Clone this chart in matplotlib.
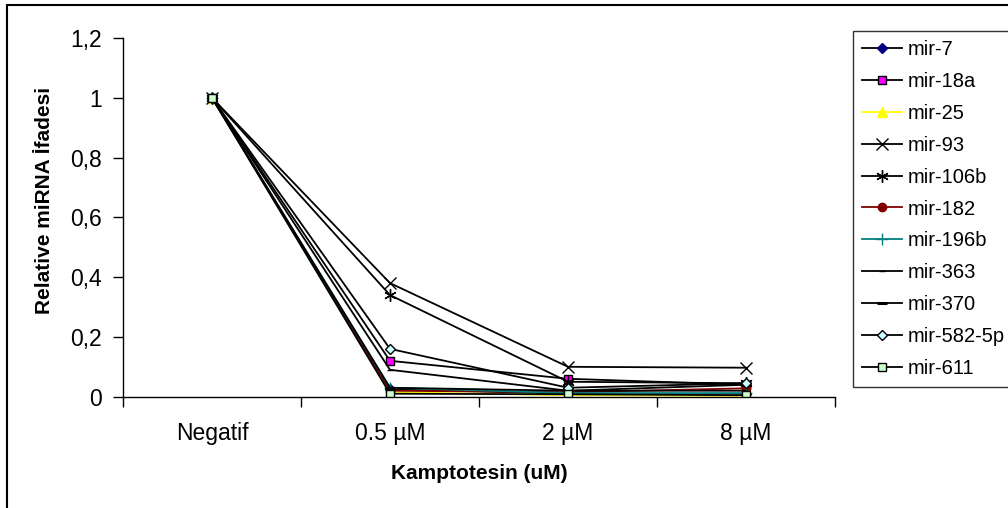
import matplotlib
matplotlib.use("Agg")
import matplotlib.pyplot as plt
from matplotlib.patches import Rectangle
from matplotlib.ticker import FixedLocator, NullFormatter

plt.rcParams['font.family'] = ['Liberation Sans', 'DejaVu Sans']

# doses on x axis
doses = ['Negatif', '0.5 µM', '2 µM', '8 µM']

# relative expression per miRNA
mir_7 = [1.0, 0.025, 0.010, 0.010]
mir_18a = [1.0, 0.12, 0.060, 0.040]
mir_25 = [1.0, 0.015, 0.005, 0.003]
mir_93 = [1.0, 0.38, 0.100, 0.097]
mir_106b = [1.0, 0.34, 0.050, 0.045]
mir_182 = [1.0, 0.020, 0.015, 0.028]
mir_196b = [1.0, 0.030, 0.012, 0.012]
mir_363 = [1.0, 0.090, 0.020, 0.020]
mir_370 = [1.0, 0.030, 0.020, 0.040]
mir_582_5p = [1.0, 0.16, 0.030, 0.045]
mir_611 = [1.0, 0.010, 0.008, 0.005]

names = ['mir-7', 'mir-18a', 'mir-25', 'mir-93', 'mir-106b', 'mir-182',
         'mir-196b', 'mir-363', 'mir-370', 'mir-582-5p', 'mir-611']
series = [mir_7, mir_18a, mir_25, mir_93, mir_106b, mir_182,
          mir_196b, mir_363, mir_370, mir_582_5p, mir_611]

# line colour, marker, marker face, marker edge, marker size
styles = [
    ('black', 'D', '#000080', '#000080', 5),
    ('black', 's', '#ff00ff', 'black', 6),
    ('#ffff00', '^', '#ffff00', '#ffff00', 7),
    ('black', 'x', 'none', 'black', 8),
    ('black', (6, 2, 0), 'none', 'black', 9),
    ('#800000', 'o', '#800000', '#800000', 6),
    ('#008080', '+', 'none', '#008080', 9),
    ('black', '_', 'none', 'black', 5),
    ('black', '_', 'none', 'black', 7),
    ('black', 'D', '#ccffff', 'black', 5),
    ('black', 's', '#ccffcc', 'black', 6),
]

fig = plt.figure(figsize=(10.08, 5.08), dpi=100)
ax = fig.add_axes([123/1008, 1 - 396.7/508, (835 - 123)/1008, (396.7 - 38)/508])

x = list(range(len(doses)))
for name, ys, (lc, mk, mfc, mec, ms) in zip(names, series, styles):
    mew = 2.2 if name == 'mir-370' else 1.0
    ax.plot(x, ys, color=lc, lw=1.3, marker=mk, markerfacecolor=mfc,
            markeredgecolor=mec, markersize=ms, markeredgewidth=mew, label=name)

ax.set_xlim(-0.5, 3.5)
ax.set_ylim(0, 1.2)
ax.set_yticks([0, 0.2, 0.4, 0.6, 0.8, 1.0, 1.2])
ax.set_yticklabels(['0', '0,2', '0,4', '0,6', '0,8', '1', '1,2'], fontsize=16.5)
ax.set_xticks(x)
ax.set_xticklabels(doses, fontsize=16.5)
ax.tick_params(axis='x', which='major', length=0, pad=18)
ax.xaxis.set_minor_locator(FixedLocator([-0.5, 0.5, 1.5, 2.5, 3.5]))
ax.xaxis.set_minor_formatter(NullFormatter())
ax.tick_params(axis='x', which='minor', length=7, width=1, direction='out')
ax.tick_params(axis='y', length=7, width=1, direction='out', pad=8)
ax.spines['top'].set_visible(False)
ax.spines['right'].set_visible(False)
ax.spines['left'].set_linewidth(1)
ax.spines['bottom'].set_linewidth(1)

ax.set_xlabel('Kamptotesin (uM)', fontsize=15, fontweight='bold', labelpad=14)
ax.set_ylabel('Relative miRNA İfadesi', fontsize=15, fontweight='bold')
ax.yaxis.set_label_coords(-0.097, 0.546)

leg = fig.legend(loc='upper left', bbox_to_anchor=(853/1008, 1 - 31/508),
                 fontsize=14.5, frameon=True, fancybox=False, edgecolor='black',
                 borderaxespad=0, handlelength=2.0, handletextpad=0.25,
                 labelspacing=0.64, borderpad=0.45)
leg.get_frame().set_linewidth(1)

# outer chart border
fig.patches.append(Rectangle((7/1008, -0.05), 1.1, 1 - 5/508 + 0.05,
                             transform=fig.transFigure, fill=False,
                             edgecolor='black', lw=1.5, clip_on=False))

fig.savefig('out.png', dpi=100)
